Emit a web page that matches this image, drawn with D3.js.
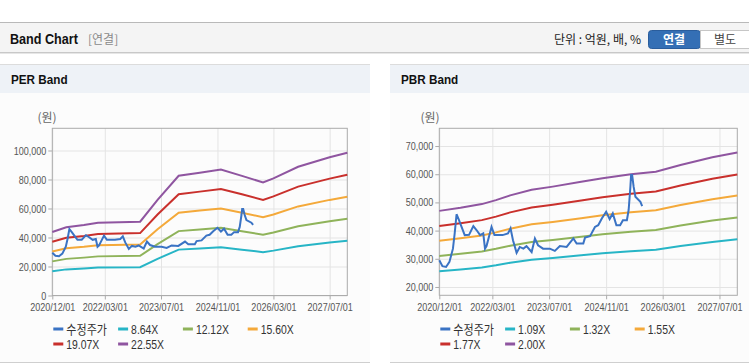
<!DOCTYPE html>
<html>
<head>
<meta charset="utf-8">
<script src="https://cdn.jsdelivr.net/npm/d3@7"></script>
<style>
  body { margin: 0; background: #fff; }
  svg { display: block; font-family: "Liberation Sans", Arial, "Noto Sans CJK KR", sans-serif; }
</style>
</head>
<body>
<svg id="chart" width="749" height="364"></svg>
<script>
/* Data
-------------------------------------------------------------------------------------------------*/
const xTicks = ["2020-12-01", "2022-03-01", "2023-07-01", "2024-11-01", "2026-03-01", "2027-07-01"]

// 수정주가 (same series in both charts)
const priceDates = ["2020-12-01", "2020-12-28", "2021-01-28", "2021-02-26", "2021-03-28", "2021-04-12", "2021-04-28",
  "2021-05-19", "2021-06-10", "2021-07-07", "2021-08-13", "2021-09-19", "2021-10-16", "2021-11-16", "2021-12-13",
  "2021-12-28", "2022-01-10", "2022-02-22", "2022-03-19", "2022-05-28", "2022-07-13", "2022-08-04", "2022-08-25",
  "2022-09-25", "2022-10-22", "2022-11-22", "2022-12-19", "2023-02-01", "2023-03-01", "2023-03-28", "2023-05-10",
  "2023-07-07", "2023-08-19", "2023-10-01", "2023-11-28", "2024-01-25", "2024-02-22", "2024-04-19", "2024-05-04",
  "2024-06-16", "2024-07-28", "2024-08-25", "2024-09-25", "2024-11-01", "2024-12-01", "2024-12-28", "2025-01-28",
  "2025-03-01", "2025-03-25", "2025-04-28", "2025-05-13", "2025-05-28", "2025-06-03", "2025-06-12", "2025-06-25",
  "2025-07-10", "2025-08-22", "2025-09-06"]
const priceValues = [29500, 27400, 27100, 28900, 33600, 39000, 45800,
  43700, 41300, 38400, 38500, 41600, 40200, 38400, 39000,
  33600, 34500, 41300, 38400, 38400, 39000, 40800, 36600,
  32100, 34200, 33600, 34500, 32400, 37200, 34800, 33600,
  33600, 32800, 34500, 34200, 37200, 35400, 35400, 37500,
  38000, 41300, 41900, 44300, 46700, 44100, 46100, 41900,
  41900, 43700, 43700, 47300, 55500, 59700, 59700, 55500,
  52000, 50200, 48700]

// PER band
const perDates = ["2020-12-01", "2021-04-01", "2021-09-01", "2022-01-01", "2023-01-01", "2023-06-01", "2023-12-01",
  "2024-06-01", "2024-12-01", "2025-06-01", "2025-12-01", "2026-03-01", "2026-10-01", "2027-07-01", "2027-12-01"]
const per864 = [16780, 18010, 18620, 19230, 19500, 25280, 31640, 32450, 33250, 31610, 29880, 30950, 34020, 36510, 37740]
const per1212 = [23540, 25260, 26120, 26980, 27360, 35480, 44400, 45530, 46660, 44340, 41930, 43430, 47730, 51220, 52940]
const per1560 = [30300, 32510, 33620, 34730, 35210, 45660, 57140, 58600, 60050, 57070, 53960, 55900, 61430, 65930, 68140]
const per1907 = [37040, 39750, 41100, 42450, 43050, 55820, 69860, 71630, 73410, 69770, 65960, 68330, 75100, 80600, 83300]
const per2255 = [43800, 47000, 48600, 50200, 50900, 66000, 82600, 84700, 86800, 82500, 78000, 80800, 88800, 95300, 98500]

// PBR band
const pbrDates = ["2020-12-01", "2021-06-01", "2021-12-01", "2022-04-01", "2022-08-01", "2023-02-01", "2023-08-01",
  "2024-04-01", "2024-10-01", "2025-06-01", "2026-01-01", "2026-08-01", "2027-05-01", "2027-12-01"]
const pbr109 = [25620, 26210, 26920, 27690, 28610, 29700, 30300, 31230, 31940, 32700, 33190, 34500, 35970, 36900]
const pbr132 = [31020, 31750, 32600, 33530, 34650, 35970, 36700, 37820, 38680, 39600, 40190, 41780, 43560, 44680]
const pbr155 = [36430, 37280, 38290, 39370, 40690, 42240, 43090, 44410, 45420, 46500, 47200, 49060, 51150, 52470]
const pbr177 = [41600, 42570, 43720, 44960, 46460, 48230, 49210, 50710, 51860, 53100, 53900, 56020, 58410, 59910]
const pbr200 = [47000, 48100, 49400, 50800, 52500, 54500, 55600, 57300, 58600, 60000, 60900, 63300, 66000, 67700]

const colors = ["#3a73c4", "#27b5c6", "#8fb35a", "#f4a93a", "#c9302c", "#8f55a0"]

const KR = "'Noto Sans CJK KR', sans-serif"

// squeeze text horizontally (the original uses a narrow font)
function condense(sel, k) {
  sel.each(function () {
    const w = this.getComputedTextLength()
    if (w > 0) d3.select(this).attr("textLength", w * k).attr("lengthAdjust", "spacingAndGlyphs")
  })
}

/* Page frame
-------------------------------------------------------------------------------------------------*/
const parse = d3.timeParse("%Y-%m-%d")
const svg = d3.select("#chart")

// top bar
svg.append("rect").attr("x", 0).attr("y", 22).attr("width", 749).attr("height", 31).style("fill", "#f4f4f4")
svg.append("line").attr("x1", 0).attr("x2", 749).attr("y1", 22.5).attr("y2", 22.5).style("stroke", "#b9b9b9")
svg.append("line").attr("x1", 0).attr("x2", 749).attr("y1", 52.5).attr("y2", 52.5).style("stroke", "#c8c8c8")
svg.append("line").attr("x1", 0).attr("x2", 749).attr("y1", 53.5).attr("y2", 53.5).style("stroke", "#e6e6e6")

svg.append("text").attr("x", 10).attr("y", 44)
  .style("font-size", "14px").style("font-weight", "bold").style("fill", "#111")
  .text("Band Chart")
  .call(condense, 0.9)
svg.append("text").attr("x", 88).attr("y", 44)
  .style("font-size", "12px").style("fill", "#8a8a8a")
  .style("font-family", KR)
  .text("[연결]")
svg.append("text").attr("x", 641).attr("y", 44).attr("text-anchor", "end")
  .style("font-size", "12px").style("fill", "#222")
  .style("font-family", KR)
  .text("단위 : 억원, 배, %")

// buttons
svg.append("rect").attr("x", 648.5).attr("y", 30.5).attr("width", 52).attr("height", 18).attr("rx", 3)
  .style("fill", "#346fb5").style("stroke", "#2a5d9c")
svg.append("rect").attr("x", 700.5).attr("y", 30.5).attr("width", 52).attr("height", 18)
  .style("fill", "#fff").style("stroke", "#c6c6c6")
svg.append("text").attr("x", 674).attr("y", 44).attr("text-anchor", "middle")
  .style("font-size", "12px").style("font-weight", "bold").style("fill", "#fff")
  .style("font-family", KR).text("연결")
svg.append("text").attr("x", 725).attr("y", 44).attr("text-anchor", "middle")
  .style("font-size", "12px").style("fill", "#444")
  .style("font-family", KR).text("별도")

/* Panels
-------------------------------------------------------------------------------------------------*/
function panel(px, pw, title) {
  svg.append("rect").attr("x", px).attr("y", 65).attr("width", pw).attr("height", 297).style("fill", "#fcfcfc")
  svg.append("rect").attr("x", px).attr("y", 65).attr("width", pw).attr("height", 28).style("fill", "#eef2f7")
  svg.append("line").attr("x1", px).attr("x2", px + pw).attr("y1", 64.5).attr("y2", 64.5).style("stroke", "#dcdcdc")
  svg.append("line").attr("x1", px).attr("x2", px + pw).attr("y1", 362.5).attr("y2", 362.5).style("stroke", "#cfcfcf")
  svg.append("text").attr("x", px + 11).attr("y", 84)
    .style("font-size", "13px").style("font-weight", "bold").style("fill", "#111")
    .text(title)
    .call(condense, 0.9)
}

function bandChart(cfg) {
  const {left, right, top, bottom, yDomain, yTicks, unitX, dates, series, labels} = cfg

  const x = d3.scaleTime().domain([parse("2020-12-01"), parse("2027-12-01")]).range([left, right])
  const y = d3.scaleLinear().domain(yDomain).range([bottom, top])
  const g = svg.append("g")

  // grid
  g.append("g")
    .attr("transform", "translate(0," + bottom + ")")
    .call(d3.axisBottom(x).tickValues(xTicks.map(parse)).tickSize(-(bottom - top)).tickFormat(""))
    .call(a => a.select(".domain").remove())
    .selectAll("line").style("stroke", "#e4e4e4")
  g.append("g")
    .attr("transform", "translate(" + left + ",0)")
    .call(d3.axisLeft(y).tickValues(yTicks).tickSize(-(right - left)).tickFormat(""))
    .call(a => a.select(".domain").remove())
    .selectAll("line").style("stroke", "#e4e4e4")

  // frame
  g.append("rect").attr("x", left).attr("y", top).attr("width", right - left).attr("height", bottom - top)
    .style("fill", "none").style("stroke", "#ababab")

  // axes
  const xa = g.append("g")
    .attr("transform", "translate(0," + bottom + ")")
    .call(d3.axisBottom(x).tickValues(xTicks.map(parse)).tickSize(4).tickFormat(d3.timeFormat("%Y/%m/%d")))
  xa.select(".domain").remove()
  xa.selectAll("line").style("stroke", "#ababab")
  xa.selectAll("text").attr("y", 8).attr("dy", "0.71em").style("font-size", "11px").style("fill", "#555")
    .call(condense, 0.82)

  const ya = g.append("g")
    .attr("transform", "translate(" + left + ",0)")
    .call(d3.axisLeft(y).tickValues(yTicks).tickSize(4).tickFormat(d3.format(",")))
  ya.select(".domain").remove()
  ya.selectAll("line").style("stroke", "#ababab")
  ya.selectAll("text").attr("x", -6).style("font-size", "11px").style("fill", "#555")
    .call(condense, 0.82)

  g.append("text").attr("x", unitX).attr("y", top - 6).attr("text-anchor", "middle")
    .style("font-size", "12px").style("fill", "#666")
    .style("font-family", KR)
    .text("(원)")

  // bands
  const line = d3.line().x(d => x(d[0])).y(d => y(d[1]))
  const bandDates = dates.map(parse)
  series.forEach((vals, i) => {
    g.append("path")
      .datum(vals.map((v, j) => [bandDates[j], v]))
      .style("fill", "none")
      .style("stroke", colors[i + 1])
      .style("stroke-width", 2)
      .attr("d", line)
  })

  // 수정주가
  g.append("path")
    .datum(priceValues.map((v, j) => [parse(priceDates[j]), v]))
    .style("fill", "none")
    .style("stroke", colors[0])
    .style("stroke-width", 2)
    .attr("d", line)

  // legend
  const names = ["수정주가"].concat(labels)
  names.forEach((n, i) => {
    const lx = left + 1 + (i % 4) * 64.8
    const ly = 329 + Math.floor(i / 4) * 15
    g.append("line").attr("x1", lx).attr("x2", lx + 10).attr("y1", ly).attr("y2", ly)
      .style("stroke", colors[i]).style("stroke-width", 3)
    g.append("text").attr("x", lx + 13).attr("y", ly + 5)
      .style("font-size", "13px").style("fill", "#333")
      .style("font-family", i === 0 ? KR : null)
      .text(n)
      .call(condense, i === 0 ? 0.85 : 0.8)
  })
}

panel(0, 370, "PER Band")
panel(390, 359, "PBR Band")

bandChart({
  left: 52.3, right: 347.3, top: 128.3, bottom: 295.5,
  yDomain: [0, 115300],
  yTicks: [0, 20000, 40000, 60000, 80000, 100000],
  unitX: 47,
  dates: perDates,
  series: [per864, per1212, per1560, per1907, per2255],
  labels: ["8.64X", "12.12X", "15.60X", "19.07X", "22.55X"]
})

bandChart({
  left: 439.3, right: 737.3, top: 128.3, bottom: 295.3,
  yDomain: [17050, 76290],
  yTicks: [20000, 30000, 40000, 50000, 60000, 70000],
  unitX: 430,
  dates: pbrDates,
  series: [pbr109, pbr132, pbr155, pbr177, pbr200],
  labels: ["1.09X", "1.32X", "1.55X", "1.77X", "2.00X"]
})
</script>
</body>
</html>
